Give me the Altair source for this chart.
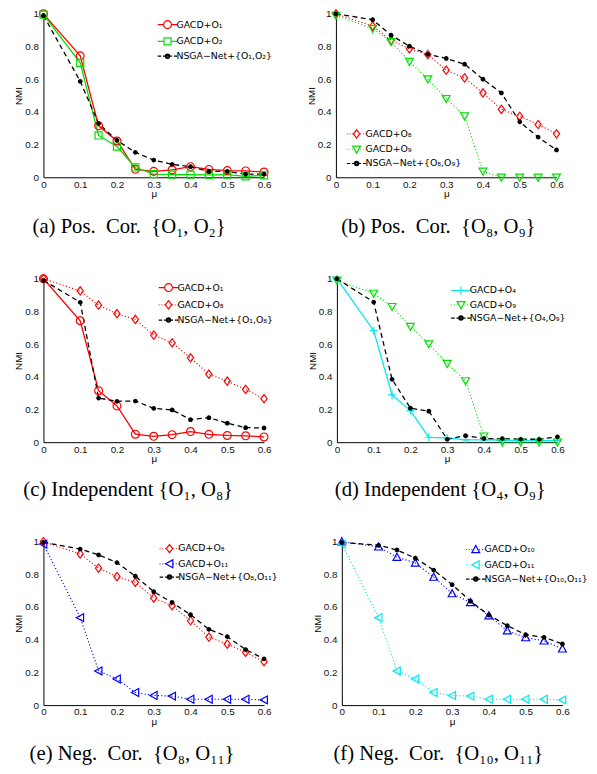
import altair as alt
import pandas as pd

MU = [0, 0.1, 0.15, 0.2, 0.25, 0.3, 0.35, 0.4, 0.45, 0.5, 0.55, 0.6]

GACD_O1 = [1.0, 0.743, 0.315, 0.222, 0.049, 0.036, 0.046, 0.065, 0.048, 0.041, 0.039, 0.032]
GACD_O2 = [0.995, 0.70, 0.256, 0.188, 0.060, 0.020, 0.016, 0.016, 0.015, 0.016, 0.006, 0.012]
NSGA_O1_O2 = [0.99, 0.587, 0.329, 0.226, 0.153, 0.105, 0.079, 0.065, 0.036, 0.036, 0.02, 0.02]
GACD_O8 = [1.0, 0.925, 0.838, 0.786, 0.751, 0.655, 0.608, 0.516, 0.416, 0.373, 0.323, 0.266]
GACD_O9 = [0.99, 0.91, 0.829, 0.708, 0.601, 0.481, 0.375, 0.037, 0.0, 0.0, 0.0, 0.0]
NSGA_O8_O9 = [1.0, 0.964, 0.869, 0.802, 0.752, 0.727, 0.692, 0.60, 0.516, 0.339, 0.246, 0.167]
NSGA_O1_O8 = [0.99, 0.856, 0.27, 0.25, 0.252, 0.207, 0.197, 0.138, 0.15, 0.116, 0.089, 0.087]
GACD_O4 = [1.0, 0.682, 0.289, 0.193, 0.03, 0.026, 0.014, 0.014, 0.012, 0.011, 0.01, 0.01]
NSGA_O4_O9 = [1.0, 0.857, 0.385, 0.208, 0.19, 0.018, 0.04, 0.022, 0.022, 0.018, 0.018, 0.033]
GACD_O11 = [0.985, 0.535, 0.209, 0.16, 0.077, 0.059, 0.055, 0.036, 0.036, 0.036, 0.036, 0.032]
NSGA_O8_O11 = [0.996, 0.955, 0.919, 0.872, 0.789, 0.694, 0.628, 0.553, 0.464, 0.419, 0.34, 0.283]
GACD_O10 = [1.0, 0.968, 0.905, 0.87, 0.783, 0.682, 0.628, 0.547, 0.455, 0.413, 0.393, 0.344]
NSGA_O10_O11 = [0.995, 0.978, 0.949, 0.899, 0.826, 0.737, 0.636, 0.551, 0.486, 0.431, 0.415, 0.374]

SP = "\u2002"
CAPTIONS = [
    f"(a) Pos.{SP}Cor.{SP}{{O₁, O₂}}",
    f"(b) Pos.{SP}Cor.{SP}{{O₈, O₉}}",
    "(c) Independent {O₁, O₈}",
    "(d) Independent {O₄, O₉}",
    f"(e) Neg.{SP}Cor.{SP}{{O₈, O₁₁}}",
    f"(f) Neg.{SP}Cor.{SP}{{O₁₀, O₁₁}}",
]

RED, GREEN, BLACK, CYAN, BLUE = "#ff0000", "#00e000", "#000000", "#00e8f0", "#0000ff"

# marker paths (unit square -1..1), with where the legend line stops on each side
MARKERS = {
    "circle": ("M-1,0A1,1,0,1,1,1,0A1,1,0,1,1,-1,0Z", -1.0, 1.0),
    "square": ("M-0.9,-0.9H0.9V0.9H-0.9Z", -0.9, 0.9),
    "diamond": ("M-0.8,0L0,-1.05L0.8,0L0,1.05Z", -0.8, 0.8),
    "tdown": ("M-1,-0.8H1L0,1Z", -0.56, 0.56),
    "tup": ("M-1,0.8H1L0,-1Z", -0.56, 0.56),
    "tleft": ("M0.85,-1V1L-1,0Z", -1.0, 0.85),
    "plus": ("M-1,0H1M0,-1V1", 0.0, 0.0),
    "dot": ("M-0.6,0A0.6,0.6,0,1,1,0.6,0A0.6,0.6,0,1,1,-0.6,0Z", -0.6, 0.6),
}
DOT_LEGEND = ("M-0.55,0A0.55,0.55,0,1,1,0.55,0A0.55,0.55,0,1,1,-0.55,0Z"
              "M-0.25,0A0.25,0.25,0,1,1,0.25,0A0.25,0.25,0,1,1,-0.25,0Z")

DASHES = {"solid": None, "dotted": [1.2, 2.2], "dashed": [5, 3.5]}


def seg(outer, inner, style):
    if style == "solid":
        return f"M{outer},0L{inner},0"
    d, g = (0.9, 0.45) if style == "dashed" else (0.2, 0.5)
    sgn = 1 if inner > outer else -1
    out, p = [], outer
    while (inner - p) * sgn > 1e-6:
        q = p + sgn * min(d, abs(inner - p))
        out.append(f"M{p:.2f},0L{q:.2f},0")
        p = q + sgn * g
    return "".join(out)


def legend_path(marker, style):
    body, lo, hi = MARKERS[marker]
    if marker == "dot":
        body = DOT_LEGEND
    if marker == "plus":
        return seg(-2.5, 2.5, style) + body
    return seg(-2.5, lo, style) + body + seg(2.5, hi, style)


PANELS = [
    dict(series=[("GACD+O₁", GACD_O1, RED, "solid", "circle"),
                 ("GACD+O₂", GACD_O2, GREEN, "solid", "square"),
                 ("NSGA−Net+{O₁,O₂}", NSGA_O1_O2, BLACK, "dashed", "dot")],
         lx=121, ly=6, rp=4, dx=-25, off=18),
    dict(series=[("GACD+O₈", GACD_O8, RED, "dotted", "diamond"),
                 ("GACD+O₉", GACD_O9, GREEN, "dotted", "tdown"),
                 ("NSGA−Net+{O₈,O₉}", NSGA_O8_O9, BLACK, "dashed", "dot")],
         lx=16, ly=117, rp=2.5, dx=-8, off=18),
    dict(series=[("GACD+O₁", GACD_O1, RED, "solid", "circle"),
                 ("GACD+O₈", GACD_O8, RED, "dotted", "diamond"),
                 ("NSGA−Net+{O₁,O₈}", NSGA_O1_O8, BLACK, "dashed", "dot")],
         lx=122, ly=4, rp=3.5, dx=-26, off=16),
    dict(series=[("GACD+O₄", GACD_O4, CYAN, "solid", "plus"),
                 ("GACD+O₉", GACD_O9, GREEN, "dotted", "tdown"),
                 ("NSGA−Net+{O₄,O₉}", NSGA_O4_O9, BLACK, "dashed", "dot")],
         lx=121, ly=7, rp=1.5, dx=-7, off=16),
    dict(series=[("GACD+O₈", GACD_O8, RED, "dotted", "diamond"),
                 ("GACD+O₁₁", GACD_O11, BLUE, "dotted", "tleft"),
                 ("NSGA−Net+{O₈,O₁₁}", NSGA_O8_O11, BLACK, "dashed", "dot")],
         lx=123, ly=2, rp=1.5, dx=-22, off=17),
    dict(series=[("GACD+O₁₀", GACD_O10, BLUE, "dotted", "tup"),
                 ("GACD+O₁₁", GACD_O11, CYAN, "dotted", "tleft"),
                 ("NSGA−Net+{O₁₀,O₁₁}", NSGA_O10_O11, BLACK, "dashed", "dot")],
         lx=131, ly=3, rp=2.5, dx=-14, off=17),
]

W, H = 224, 166
FONT = "Liberation Sans"
LFONT = "DejaVu Sans"

xenc = alt.X("mu:Q", scale=alt.Scale(domain=[0, 0.6], nice=False),
             axis=alt.Axis(values=[0, 0.1, 0.2, 0.3, 0.4, 0.5, 0.6], format="~g",
                           title="μ", labelPadding=2, titlePadding=0, labelFlush=False))
yenc = alt.Y("nmi:Q", scale=alt.Scale(domain=[0, 1], nice=False),
             axis=alt.Axis(values=[0, 0.2, 0.4, 0.6, 0.8, 1], format="~g",
                           title="NMI", labelPadding=5, titlePadding=1, labelFlush=False))


def make_panel(i, p):
    layers = []
    rows = []
    for label, vals, col, style, marker in p["series"]:
        d = pd.DataFrame({"mu": MU, "nmi": vals, "series": label})
        rows.append(d)
        lk = dict(color=col, strokeWidth=1.3 if style != "dotted" else 1.1)
        if DASHES[style]:
            lk["strokeDash"] = DASHES[style]
        layers.append(alt.Chart(d).mark_line(**lk).encode(x=xenc, y=yenc))
    for label, vals, col, style, marker in p["series"]:
        d = pd.DataFrame({"mu": MU, "nmi": vals, "series": label})
        if marker == "dot":
            pm = alt.Chart(d).mark_point(shape=MARKERS["dot"][0], size=64, filled=True,
                                         color=col, opacity=1)
        else:
            pm = alt.Chart(d).mark_point(shape=MARKERS[marker][0], size=64, filled=False,
                                         color=col, strokeWidth=1.2, opacity=1)
        layers.append(pm.encode(x=xenc, y=yenc))
    labels = [s[0] for s in p["series"]]
    colors = [s[2] for s in p["series"]]
    paths = [legend_path(s[4], s[3]) for s in p["series"]]
    alld = pd.concat(rows)
    leg = alt.Chart(alld).mark_point(filled=False, strokeWidth=1.2, opacity=1).encode(
        x=xenc, y=yenc,
        color=alt.Color("series:N", scale=alt.Scale(domain=labels, range=colors),
                        legend=alt.Legend(orient="none", legendX=p["lx"], legendY=p["ly"],
                                          title=None, labelFont=LFONT, labelFontSize=9.5,
                                          labelColor="#000", labelOffset=4,
                                          rowPadding=p["rp"], padding=0, symbolSize=64,
                                          symbolStrokeWidth=1.2, labelLimit=200)),
        shape=alt.Shape("series:N", scale=alt.Scale(domain=labels, range=paths)),
    ).transform_filter("false")
    layers.append(leg)
    return alt.layer(*layers).properties(
        width=W, height=H,
        title=alt.TitleParams(CAPTIONS[i], orient="bottom", anchor="middle",
                              font="Liberation Serif", fontSize=21, fontWeight="normal",
                              color="#000", offset=p["off"], dx=p["dx"]),
    )


panels = [make_panel(i, p) for i, p in enumerate(PANELS)]
RES = dict(color="independent", shape="independent")
rowsc = [alt.hconcat(panels[2 * r], panels[2 * r + 1], spacing=32).resolve_scale(**RES)
         for r in range(3)]
chart = alt.vconcat(*rowsc, spacing=33).resolve_scale(**RES).properties(
    padding={"left": 5, "top": -8, "right": 0, "bottom": 0}
).configure_view(stroke="transparent").configure_axis(
    grid=False, ticks=False, domainColor="#000", domainWidth=1,
    labelFont=FONT, labelFontSize=10, labelColor="#111",
    titleFont=FONT, titleFontSize=10, titleFontWeight="normal", titleColor="#000",
)

chart.save("out.html", embed_options={"renderer": "svg", "actions": False})
